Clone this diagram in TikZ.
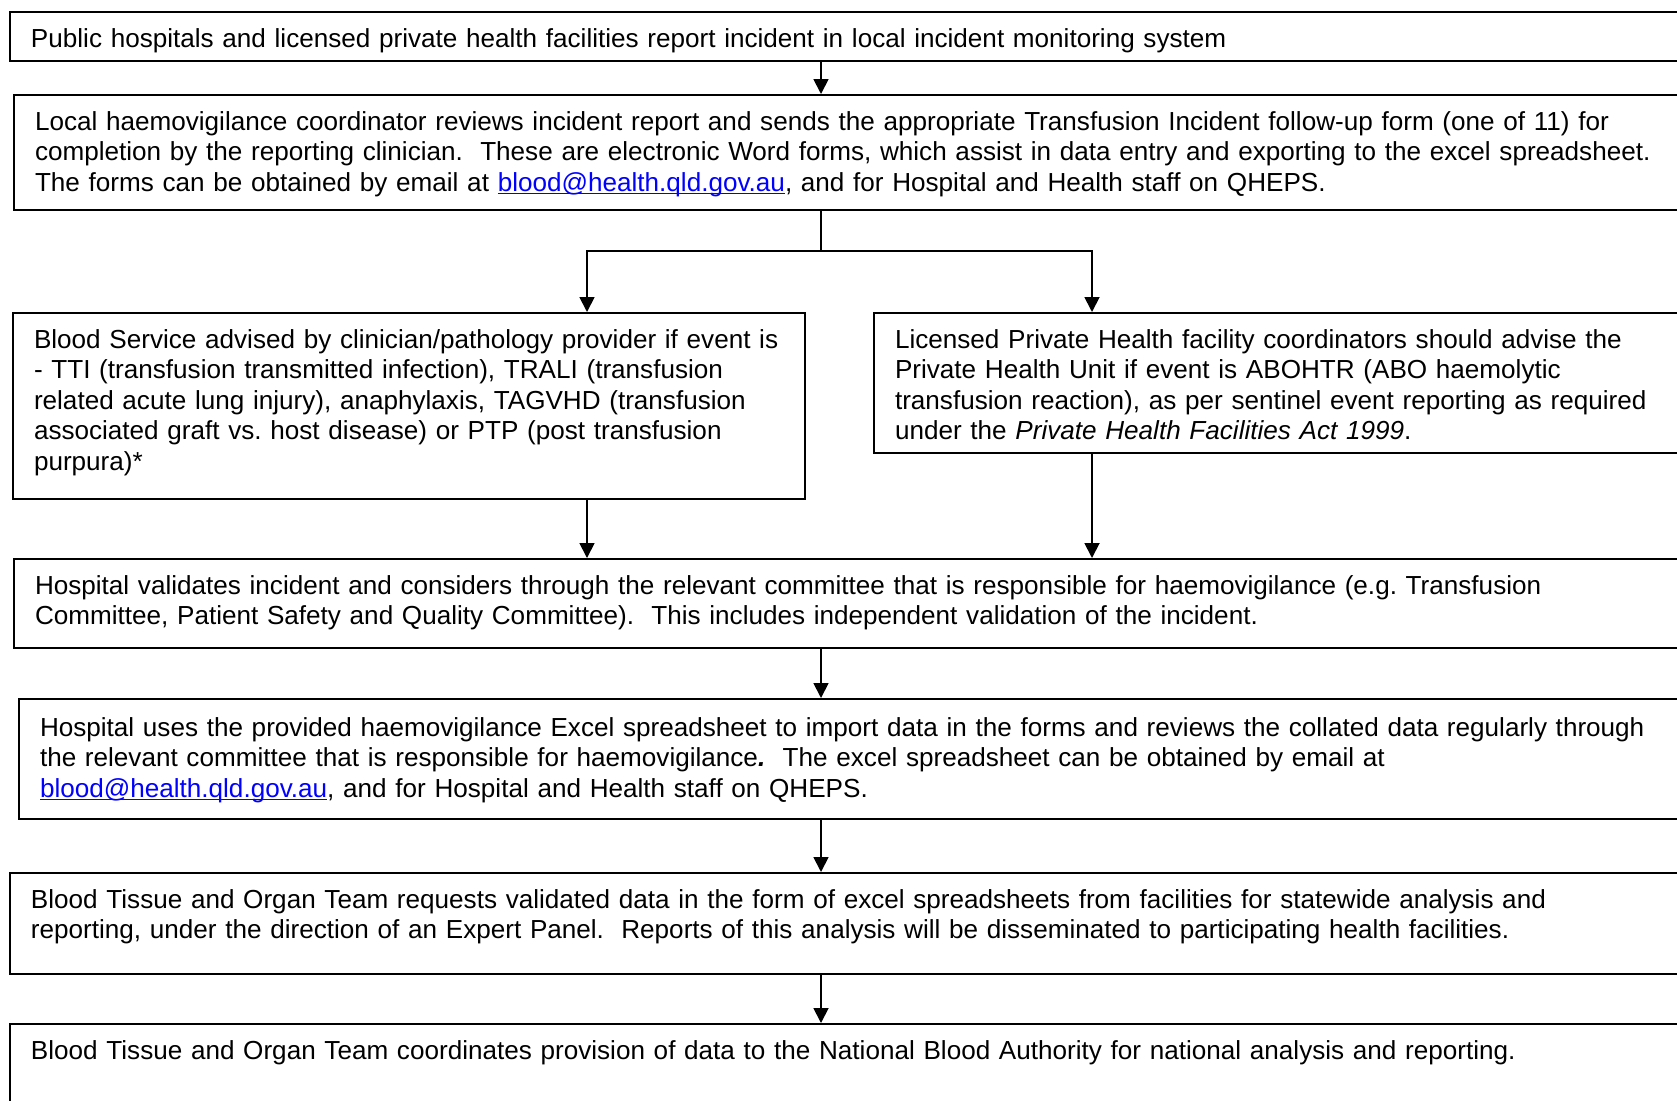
\documentclass[tikz,border=0pt]{standalone}
\usepackage{fontspec}
\setmainfont{Liberation Sans}
\usetikzlibrary{arrows.meta}
\definecolor{linkblue}{RGB}{0,0,255}
\newcommand{\qldmail}{\leavevmode{\color{linkblue}\setbox0\hbox{blood@health.qld.gov.au}%
  \rlap{\rule[-1.6pt]{\wd0}{0.6pt}}\box0}}
\tikzset{
  stage/.style={draw, line width=1pt, anchor=north west, align=left,
    inner xsep=10.5pt, inner ysep=0pt, text height=17.5pt,
    font=\fontsize{13.05pt}{15.25pt}\selectfont},
  flow/.style={line width=0.9pt, -{Triangle[length=7.5pt,width=7.5pt]}}
}
\begin{document}
\begin{tikzpicture}[x=0.5pt,y=-0.5pt]
  \useasboundingbox (0,0) rectangle (1677,1100);
  \clip (0,0) rectangle (1677,1100);
  \coordinate (axis) at (821,0);
  \coordinate (lcol) at (587,0);
  \coordinate (rcol) at (1092,0);
  \coordinate (split) at (821,251);

  \node[stage, text width=819.5pt, text depth=7pt] (report) at (9,11)
    {Public hospitals and licensed private health facilities report incident in local incident monitoring system};
  \node[stage, text width=817.5pt, text depth=40pt] (review) at (13,94)
    {Local haemovigilance coordinator reviews incident report and sends the appropriate Transfusion Incident follow-up form (one of 11) for\\
     completion by the reporting clinician.\ \ These are electronic Word forms, which assist in data entry and exporting to the excel spreadsheet.\\
     The forms can be obtained by email at \qldmail, and for Hospital and Health staff on QHEPS.};
  \node[stage, text width=375pt, text depth=75.5pt] (service) at (12,312)
    {Blood Service advised by clinician/pathology provider if event is\\
     - TTI (transfusion transmitted infection), TRALI (transfusion\\
     related acute lung injury), anaphylaxis, TAGVHD (transfusion\\
     associated graft vs.\ host disease) or PTP (post transfusion\\
     purpura)*};
  \node[stage, text width=387.5pt, text depth=52.5pt] (private) at (873,312)
    {Licensed Private Health facility coordinators should advise the\\
     Private Health Unit if event is ABOHTR (ABO haemolytic\\
     transfusion reaction), as per sentinel event reporting as required\\
     under the \textit{Private Health Facilities Act 1999}.};
  \node[stage, text width=817.5pt, text depth=27pt] (validate) at (13,558)
    {Hospital validates incident and considers through the relevant committee that is responsible for haemovigilance (e.g.\ Transfusion\\
     Committee, Patient Safety and Quality Committee).\ \ This includes independent validation of the incident.};
  \node[stage, text width=815pt, text height=18.5pt, text depth=41.5pt] (collate) at (18,698)
    {Hospital uses the provided haemovigilance Excel spreadsheet to import data in the forms and reviews the collated data regularly through\\
     the relevant committee that is responsible for haemovigilance\textbf{\textit{.}}\ \ The excel spreadsheet can be obtained by email at\\
     \qldmail, and for Hospital and Health staff on QHEPS.};
  \node[stage, text width=819.5pt, text depth=33pt] (statewide) at (9,872)
    {Blood Tissue and Organ Team requests validated data in the form of excel spreadsheets from facilities for statewide analysis and\\
     reporting, under the direction of an Expert Panel.\ \ Reports of this analysis will be disseminated to participating health facilities.};
  \node[stage, text width=819.5pt, text depth=40pt] (national) at (9,1023)
    {Blood Tissue and Organ Team coordinates provision of data to the National Blood Authority for national analysis and reporting.};

  % connectors
  \draw[flow] (report.south -| axis) -- (review.north -| axis);
  \draw[line width=0.9pt] (review.south -| axis) -- (split);
  \draw[flow] (split) -| (service.north -| lcol);
  \draw[flow] (split) -| (private.north -| rcol);
  \draw[flow] (service.south -| lcol) -- (validate.north -| lcol);
  \draw[flow] (private.south -| rcol) -- (validate.north -| rcol);
  \draw[flow] (validate.south -| axis) -- (collate.north -| axis);
  \draw[flow] (collate.south -| axis) -- (statewide.north -| axis);
  \draw[flow] (statewide.south -| axis) -- (national.north -| axis);
\end{tikzpicture}
\end{document}
